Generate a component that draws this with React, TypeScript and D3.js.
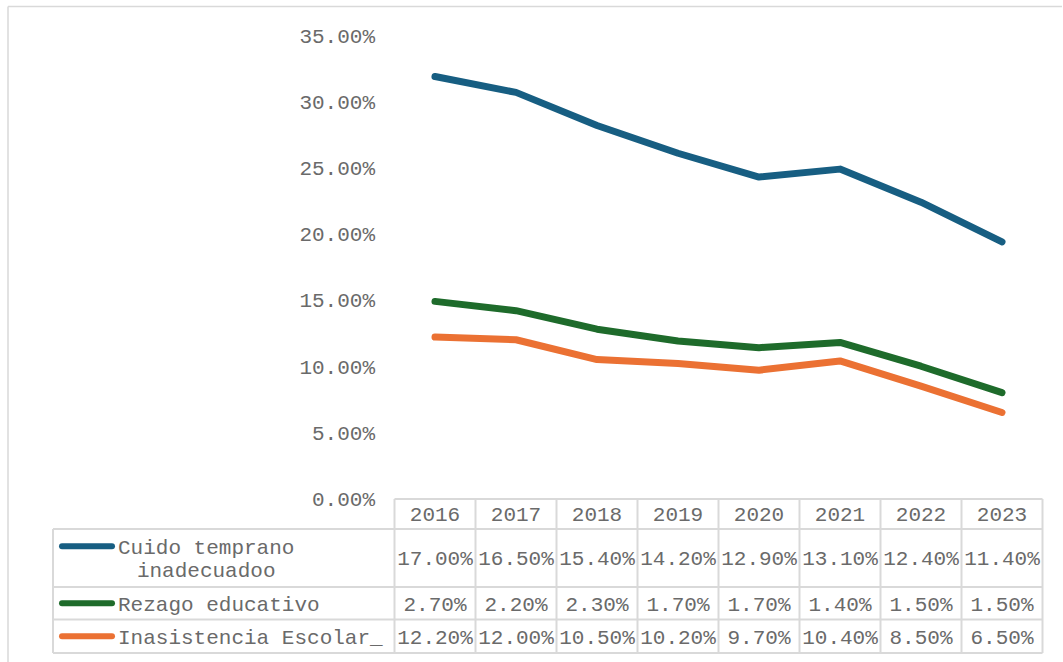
import React from "react";
import * as d3 from "d3";

const years = ["2016", "2017", "2018", "2019", "2020", "2021", "2022", "2023"];
const cuido = [17.0, 16.5, 15.4, 14.2, 12.9, 13.1, 12.4, 11.4];
const rezago = [2.7, 2.2, 2.3, 1.7, 1.7, 1.4, 1.5, 1.5];
const inasistencia = [12.2, 12.0, 10.5, 10.2, 9.7, 10.4, 8.5, 6.5];
const yTicks = [0, 5, 10, 15, 20, 25, 30, 35];

const seriesDefs = [
  { key: "cuido", label: ["Cuido temprano", "inadecuadoo"], values: cuido, color: "#175E82" },
  { key: "rezago", label: ["Rezago educativo"], values: rezago, color: "#1E6B2B" },
  { key: "inasistencia", label: ["Inasistencia Escolar_"], values: inasistencia, color: "#EB7133" },
];

const W = 1063;
const H = 662;
const FONT = "'Liberation Mono', 'Courier New', monospace";
const TEXT = "#6a6a6a";
const BORDER = "#d9d9d9";

export default function App() {
  const x = d3.scaleBand().domain(years).range([394.5, 1042.5]).padding(0);
  const y = d3.scaleLinear().domain([0, 35]).range([498.5, 35.5]);

  const rows = years.map((yr, i) => ({
    year: yr,
    cuido: cuido[i],
    rezago: rezago[i],
    inasistencia: inasistencia[i],
  }));
  const stacked = d3.stack<any>().keys(["inasistencia", "rezago", "cuido"])(rows);
  const byKey: Record<string, any> = {};
  stacked.forEach((s) => (byKey[s.key] = s));

  const line = d3
    .line<any>()
    .x((d) => (x(d.data.year) as number) + x.bandwidth() / 2)
    .y((d) => y(d[1]));

  const fmt = (v: number) => v.toFixed(2) + "%";

  const headerTop = 499;
  const rowBounds = [529, 587, 619.5, 653];
  const legendLeft = 53;
  const tableLeft = x.range()[0];
  const tableRight = x.range()[1];

  const drawOrder = ["inasistencia", "rezago", "cuido"];

  return (
    <svg
      width={W}
      height={H}
      style={{ position: "absolute", left: 0, top: 0, background: "#fff" }}
      fontFamily={FONT}
    >
      <rect x={0} y={0} width={W} height={H} fill="#fff" />
      <line x1={8} y1={6.5} x2={1062} y2={6.5} stroke={BORDER} strokeWidth={1.5} />
      <line x1={8} y1={6.5} x2={8} y2={H} stroke={BORDER} strokeWidth={1.5} />

      {yTicks.map((t) => (
        <text key={t} x={375} y={y(t)} dy="0.35em" textAnchor="end" fontSize={21} fill={TEXT}>
          {fmt(t)}
        </text>
      ))}

      {drawOrder.map((k) => {
        const def = seriesDefs.find((s) => s.key === k)!;
        return (
          <path
            key={k}
            d={line(byKey[k]) || ""}
            fill="none"
            stroke={def.color}
            strokeWidth={7}
            strokeLinecap="round"
            strokeLinejoin="round"
          />
        );
      })}

      <g stroke={BORDER} strokeWidth={2} fill="none">
        <line x1={tableLeft} y1={headerTop} x2={tableRight} y2={headerTop} />
        {rowBounds.map((b) => (
          <line key={b} x1={legendLeft} y1={b} x2={tableRight} y2={b} />
        ))}
        <line x1={legendLeft} y1={rowBounds[0]} x2={legendLeft} y2={rowBounds[3]} />
        {years.map((yr) => (
          <line key={yr} x1={x(yr) as number} y1={headerTop} x2={x(yr) as number} y2={rowBounds[3]} />
        ))}
        <line x1={tableRight} y1={headerTop} x2={tableRight} y2={rowBounds[3]} />
      </g>

      {years.map((yr) => (
        <text
          key={yr}
          x={(x(yr) as number) + x.bandwidth() / 2}
          y={(headerTop + rowBounds[0]) / 2}
          dy="0.35em"
          textAnchor="middle"
          fontSize={21}
          fill={TEXT}
        >
          {yr}
        </text>
      ))}

      {seriesDefs.map((s, ri) => {
        const top = rowBounds[ri];
        const bottom = rowBounds[ri + 1];
        const mid = (top + bottom) / 2;
        const lineH = 23.5;
        const firstY = mid - ((s.label.length - 1) * lineH) / 2;
        const firstLen = s.label[0].length;
        return (
          <g key={s.key}>
            <line x1={62} x2={112} y1={firstY} y2={firstY} stroke={s.color} strokeWidth={6} strokeLinecap="round" />
            {s.label.map((l, li) => (
              <text
                key={li}
                x={118 + ((firstLen - l.length) * 12.6) / 2}
                y={firstY + li * lineH}
                dy="0.35em"
                fontSize={21}
                fill={TEXT}
              >
                {l}
              </text>
            ))}
            {s.values.map((v, i) => (
              <text
                key={i}
                x={(x(years[i]) as number) + x.bandwidth() / 2}
                y={mid}
                dy="0.35em"
                textAnchor="middle"
                fontSize={21}
                fill={TEXT}
              >
                {fmt(v)}
              </text>
            ))}
          </g>
        );
      })}
    </svg>
  );
}
